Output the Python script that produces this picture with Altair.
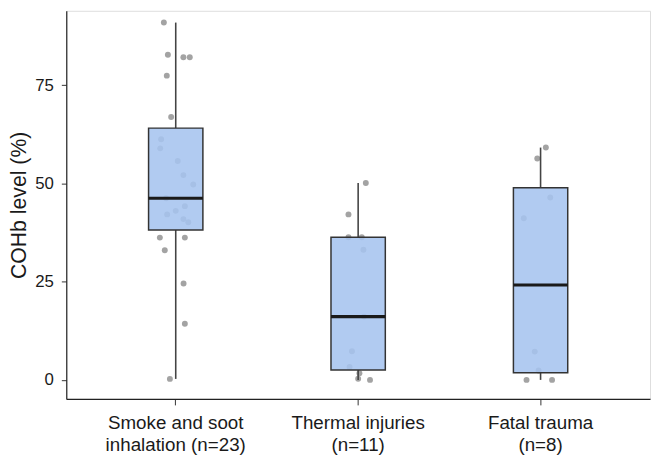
import altair as alt
import pandas as pd

categories = ["Smoke and soot|inhalation (n=23)", "Thermal injuries|(n=11)", "Fatal trauma|(n=8)"]

smoke_values = [90.9, 82.7, 82.1, 82.1, 77.4, 66.9, 61.2, 58.9, 55.7, 52.1, 49.7, 46.2,
                44.2, 43.0, 42.1, 40.9, 40.1, 36.2, 36.2, 33.0, 24.5, 14.3, 0.25]
smoke_jitter = [-0.065, -0.043, 0.042, 0.077, -0.049, -0.025, -0.080, -0.085, 0.011, 0.042,
                0.096, -0.053, 0.050, 0.0, -0.047, 0.042, 0.069, -0.087, 0.050, -0.060,
                0.043, 0.050, -0.032]

thermal_values = [50.1, 42.1, 36.3, 36.3, 33.1, 16.1, 7.3, 3.3, 1.7, 0.3, 0.0]
thermal_jitter = [0.042, -0.053, -0.053, 0.020, 0.029, 0.032, -0.034, -0.047, 0.007, 0.0, 0.065]

trauma_values = [59.1, 56.3, 46.4, 41.1, 7.2, 2.4, 0.0, 0.0]
trauma_jitter = [0.029, -0.018, 0.053, -0.092, -0.032, -0.011, -0.077, 0.063]

rows = []
for cat, vals, jit in zip(categories,
                          [smoke_values, thermal_values, trauma_values],
                          [smoke_jitter, thermal_jitter, trauma_jitter]):
    for v, j in zip(vals, jit):
        rows.append({"group": cat, "cohb": v, "jitter": j})
df = pd.DataFrame(rows)

FONT = "Liberation Sans"

x_enc = alt.X(
    "group:N",
    sort=categories,
    scale=alt.Scale(paddingInner=0, paddingOuter=0.1),
    axis=alt.Axis(
        title=None,
        labelAngle=0,
        labelExpr="split(datum.label, '|')",
        labelFontSize=19,
        labelLineHeight=22,
        labelColor="#1a1a1a",
        labelFont=FONT,
        labelPadding=9,
        tickSize=6,
        tickColor="#333333",
        domainColor="#222222",
        domainWidth=1.2,
    ),
)
y_enc = alt.Y(
    "cohb:Q",
    scale=alt.Scale(domain=[-4.85, 93.9], nice=False, zero=False),
    axis=alt.Axis(
        title="COHb level (%)",
        values=[0, 25, 50, 75],
        grid=False,
        labelFontSize=17,
        labelColor="#1a1a1a",
        labelFont=FONT,
        labelPadding=8,
        tickSize=5,
        tickColor="#333333",
        domainColor="#222222",
        domainWidth=1.2,
        titleFontSize=21.5,
        titleFontWeight="normal",
        titleFont=FONT,
        titleColor="#1a1a1a",
        titlePadding=4,
    ),
)

points = alt.Chart(df).mark_circle(size=36, color="#999999", opacity=0.9).encode(
    x=x_enc,
    xOffset=alt.XOffset("jitter:Q", scale=alt.Scale(domain=[-0.5, 0.5])),
    y=y_enc,
)

boxes = alt.Chart(df).mark_boxplot(
    size=55,
    extent=1.5,
    ticks=False,
    outliers=False,
    box={"fill": "#a6c4ef", "fillOpacity": 0.88, "stroke": "#333333", "strokeWidth": 1.5},
    median={"color": "#1a1a1a", "thickness": 3.2, "opacity": 1},
    rule={"color": "#444444", "strokeWidth": 1.6},
).encode(
    x=x_enc,
    y=y_enc,
)

chart = alt.layer(points, boxes).properties(
    width=591,
    height=393,
    autosize=alt.AutoSizeParams(type="none"),
    padding={"left": 59, "top": 0, "right": 2, "bottom": 60},
).configure_view(stroke=None).configure(background="white")

chart.save("out.html", embed_options={"renderer": "svg", "actions": False})
